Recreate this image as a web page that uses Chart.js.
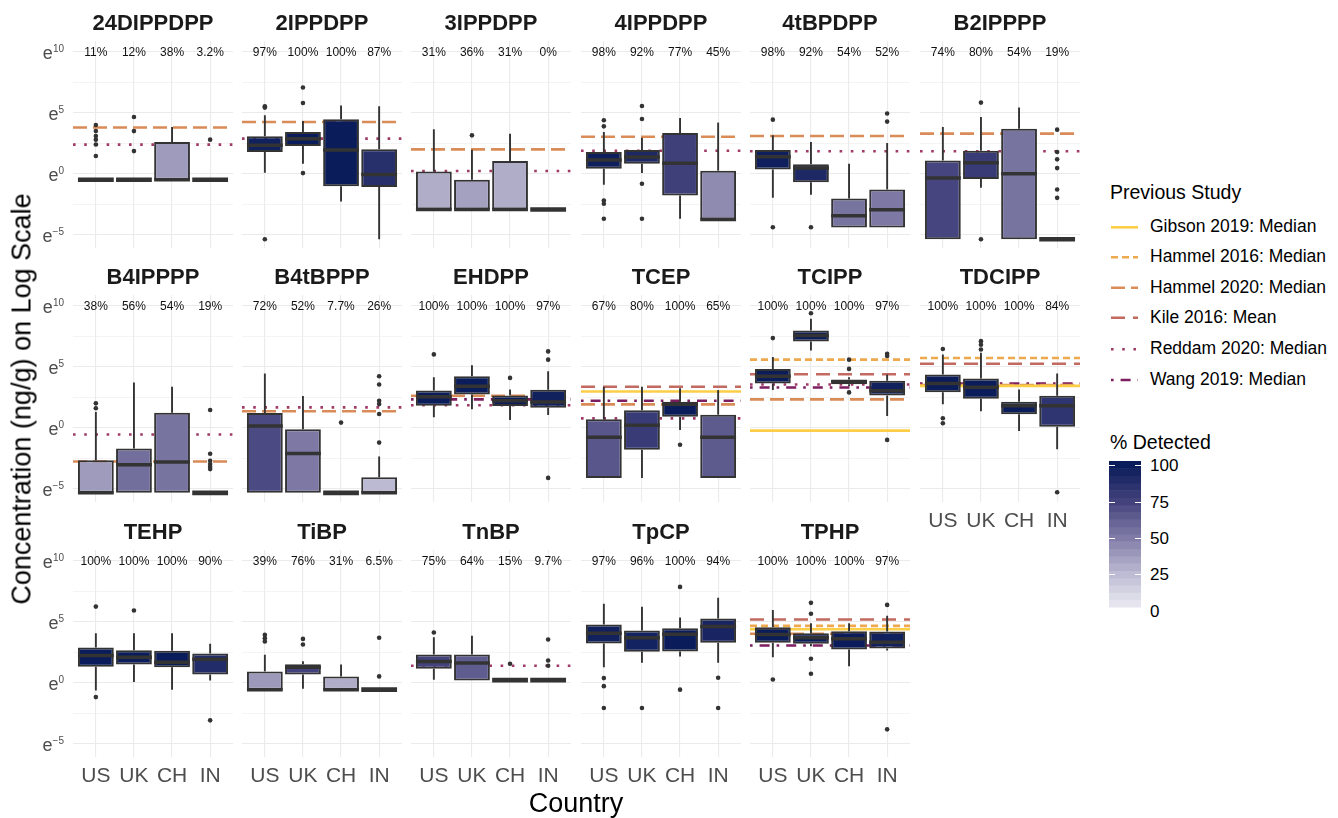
<!DOCTYPE html>
<html>
<head>
<meta charset="utf-8">
<script src="https://cdn.jsdelivr.net/npm/chart.js@4.4.1/dist/chart.umd.min.js"></script>
<style>
  body { margin: 0; background: #fff; font-family: "Liberation Sans", Arial, sans-serif; }
  #wrap { position: relative; width: 1338px; height: 818px; overflow: hidden; background: #fff; }
  #wrap canvas { position: absolute; }
  .t { position: absolute; white-space: nowrap; line-height: 1; color: #000; }
</style>
</head>
<body>
<div id="wrap"></div>
<script>
// ---- data (values are natural logs of ng/g) ----
const countries = ['US', 'UK', 'CH', 'IN'];
const compounds = ['24DIPPDPP', '2IPPDPP', '3IPPDPP', '4IPPDPP', '4tBPDPP', 'B2IPPPP',
  'B4IPPPP', 'B4tBPPP', 'EHDPP', 'TCEP', 'TCIPP', 'TDCIPP',
  'TEHP', 'TiBP', 'TnBP', 'TpCP', 'TPHP'];

const detected = [
  [11, 12, 38, 3.2], [97, 100, 100, 87], [31, 36, 31, 0], [98, 92, 77, 45], [98, 92, 54, 52], [74, 80, 54, 19],
  [38, 56, 54, 19], [72, 52, 7.7, 26], [100, 100, 100, 97], [67, 80, 100, 65], [100, 100, 100, 97], [100, 100, 100, 84],
  [100, 100, 100, 90], [39, 76, 31, 6.5], [75, 64, 15, 9.7], [97, 96, 100, 94], [100, 100, 100, 97]
];

const whiskerLow = [
  [-0.5, -0.5, -0.5, -0.5], [0.08, 0.82, -2.28, -5.38], [-2.94, -2.94, -2.94, -2.94], [-0.91, 0.05, -3.7, -3.76],
  [-1.98, -1.73, -4.42, -4.42], [-5.38, -1.15, -5.38, -5.38],
  [-5.35, -5.35, -5.35, -5.35], [-5.35, -5.35, -5.35, -5.35], [0.86, 1.51, 0.64, 1.04], [-4.12, -4.12, -0.18, -4.12],
  [3.09, 6.35, 3.4, 0.96], [1.92, 1.35, -0.26, -1.76],
  [-0.63, 0.05, -0.57, 0.19], [-0.57, -0.49, -0.57, -0.57], [0.25, 0.19, 0.21, 0.21], [1.28, 1.64, 2.16, 1.64], [2.1, 3.0, 1.36, 2.65]
];
const quart1 = [
  [-0.5, -0.5, -0.5, -0.5], [1.78, 2.27, -1.02, -1.1], [-2.94, -2.94, -2.94, -2.94], [0.41, 0.82, -1.79, -3.76],
  [0.35, -0.69, -4.42, -4.42], [-5.38, -0.44, -5.38, -5.38],
  [-5.35, -5.35, -5.35, -5.35], [-5.35, -5.35, -5.35, -5.35], [1.81, 2.73, 1.78, 1.64], [-4.12, -1.81, 0.91, -4.12],
  [3.63, 7.09, 3.58, 2.65], [2.92, 2.38, 1.1, 0.07],
  [1.31, 1.5, 1.28, 0.68], [-0.57, 0.68, -0.57, -0.57], [1.15, 0.19, 0.21, 0.21], [3.22, 2.54, 2.57, 3.28], [3.28, 3.2, 2.73, 2.81]
];
const medians = [
  [-0.5, -0.5, -0.5, -0.5], [2.33, 2.88, 1.94, -0.06], [-2.94, -2.94, -2.94, -2.94], [1.12, 1.37, 0.87, -3.76],
  [1.4, 0.46, -3.46, -2.96], [-0.36, 0.91, 0, -5.38],
  [-5.35, -3.04, -2.82, -5.35], [0.15, -2.11, -5.35, -5.35], [2.54, 3.41, 2.21, 2.11], [-0.78, 0.2, 1.92, -0.78],
  [4.23, 7.58, 3.77, 3.03], [3.63, 3.33, 1.81, 1.81],
  [2.24, 2.1, 1.69, 1.93], [-0.57, 1.28, -0.57, -0.57], [1.75, 1.61, 0.21, 0.21], [4.07, 3.69, 3.98, 4.61], [3.96, 3.69, 3.61, 3.33]
];
const quart3 = [
  [-0.5, -0.5, 2.6, -0.5], [3.07, 3.42, 4.47, 2.0], [0.19, -0.49, 1.04, -2.94], [1.78, 1.94, 3.34, 0.25],
  [1.94, 0.77, -2.03, -1.29], [1.09, 1.89, 3.7, -5.38],
  [-2.68, -1.7, 1.23, -5.35], [1.21, -0.12, -5.35, -4.07], [3.06, 4.23, 2.65, 3.11], [0.69, 1.43, 2.13, 1.07],
  [4.83, 7.98, 3.96, 3.85], [4.37, 4.04, 2.13, 2.62],
  [2.89, 2.67, 2.62, 2.4], [0.93, 1.52, 0.52, -0.57], [2.32, 2.32, 0.21, 0.21], [4.78, 4.29, 4.48, 5.27], [4.56, 4.07, 4.23, 4.2]
];
const whiskerHigh = [
  [-0.5, -0.5, 3.84, -0.5], [4.8, 4.33, 5.6, 5.54], [3.65, 1.97, 3.29, -2.94], [3.42, 2.96, 4.58, 4.2],
  [3.15, 2.6, 0.82, 2.52], [3.84, 4.66, 5.43, -5.38],
  [1.3, 3.71, 3.36, -5.35], [4.45, 2.6, -5.35, -2.36], [4.15, 5.13, 3.14, 4.64], [3.36, 3.36, 3.25, 3.09],
  [5.8, 8.94, 4.15, 4.37], [6.02, 6.16, 3.14, 4.45],
  [4.07, 4.07, 4.07, 3.2], [2.3, 1.77, 1.5, -0.57], [3.74, 3.85, 0.21, 0.21], [6.48, 6.23, 5.35, 6.97], [5.98, 4.89, 4.89, 5.49]
];
const outliers = [
  [[4.0, 3.5, 3.1, 2.8, 2.4, 1.45], [4.66, 3.5, 1.86], [], [2.8]],
  [[5.54, 5.43, -5.38], [7.08, 5.81, 0.05], [], []],
  [[], [3.15], [], []],
  [[4.39, 3.89, -2.2, -2.47, -3.7], [5.56, 4.5, -0.82, -3.7], [], []],
  [[4.44, -4.39], [-4.39], [], [4.94, 4.28]],
  [[], [5.84, -5.38], [], [3.62, 1.78, 1.18, 0.46, -1.29, -1.98]],
  [[2.0, 1.6], [], [], [1.45, -2.14, -2.71, -2.98, -3.2, -3.4]],
  [[], [], [0.42], [4.23, 3.55, 2.21, 1.94, 1.13, -1.22]],
  [[6.02], [], [4.09], [6.27, 5.59, -4.12]],
  [[], [], [-1.4], []],
  [[7.36], [9.4], [5.59, 4.83, 2.9], [6.08, 5.89, -1.0]],
  [[6.46, 0.78, 0.37], [7.11, 6.81, 6.43], [], [-5.3]],
  [[6.25, -1.18], [5.93], [], [-3.09]],
  [[3.93, 3.66, 3.39], [3.6, 3.14], [], [3.69, 0.52]],
  [[4.12], [], [1.56], [3.55, 1.83, 1.39]],
  [[0.38, -0.28, -2.08], [-2.08], [7.87, -0.57], [0.41, -2.08]],
  [[0.27], [6.56, 5.66, 1.97, 0.74], [], [6.39, -3.83]]
];

const studies = ['Gibson 2019: Median', 'Hammel 2016: Median', 'Hammel 2020: Median',
  'Kile 2016: Mean', 'Reddam 2020: Median', 'Wang 2019: Median'];
// one row per compound, one column per study (null = not reported)
const studyValues = [
  [null, null, 3.79, null, 2.39, null],
  [null, null, 4.25, null, 2.88, null],
  [null, null, 2.0, null, 0.22, null],
  [null, null, 3.04, null, 1.89, null],
  [null, null, 3.1, null, 1.84, null],
  [null, null, 3.29, null, 1.84, null],
  [null, null, -2.77, null, -0.56, null],
  [null, null, 1.35, null, 1.67, null],
  [null, null, 2.62, null, 1.84, 2.33],
  [2.98, null, 1.92, 3.36, 0.77, 2.21],
  [-0.24, 5.59, 2.33, 4.39, 3.55, 3.3],
  [3.44, 5.72, 3.5, 5.26, null, 3.63],
  [null, null, null, null, null, null],
  [null, null, null, null, null, null],
  [null, null, null, null, 1.39, null],
  [null, null, null, null, null, null],
  [4.39, 4.67, 4.02, 5.19, null, 3.06]
];

const yTicks = [-5, -2.5, 0, 2.5, 5, 7.5, 10];
const yLabelTicks = [-5, 0, 5, 10];
const legendTicks = [0, 25, 50, 75, 100];

// ---- styles ----
const studyColors = ['rgb(252,206,72)', 'rgb(238,168,78)', 'rgb(217,139,88)', 'rgb(194,105,96)', 'rgb(160,58,102)', 'rgb(124,30,95)'];
const studyDashes = [[], [7, 4], [14, 6], [14, 8], [2.6, 8.6], [2.6, 7, 10, 7]];
const rampStops = [[0, [240, 240, 246]], [25, [190, 188, 212]], [50, [130, 125, 167]], [75, [68, 67, 125]], [100, [10, 28, 90]]];

const fillFor = (p) => {
  p = Math.max(0, Math.min(100, p));
  for (let i = 1; i < rampStops.length; i++) {
    const [v1, c1] = rampStops[i];
    const [v0, c0] = rampStops[i - 1];
    if (p <= v1) {
      const t = (p - v0) / (v1 - v0);
      const c = c0.map((a, j) => Math.round(a + (c1[j] - a) * t));
      return `rgb(${c[0]},${c[1]},${c[2]})`;
    }
  }
};

const PLOT_W = 160, PLOT_H = 207;
const PAD = { left: 70, right: 6, top: 45, bottom: 45 };
const ROW_TOPS = [41, 295, 550];
const FONT = '"Liberation Sans", Arial, sans-serif';

const wrap = document.getElementById('wrap');

const panelDecor = {
  id: 'panelDecor',
  afterDatasetsDraw(chart, args, opts) {
    const k = opts.panel;
    const { ctx, scales: { x, y } } = chart;
    const boxes = chart.getDatasetMeta(opts.boxIndex).data;
    ctx.save();
    ctx.strokeStyle = '#333333';
    ctx.lineCap = 'butt';
    countries.forEach((c, i) => {
      const px = x.getPixelForValue(i + 1);
      ctx.lineWidth = 1.9;
      ctx.beginPath();
      ctx.moveTo(px, y.getPixelForValue(quart3[k][i]));
      ctx.lineTo(px, y.getPixelForValue(whiskerHigh[k][i]));
      ctx.moveTo(px, y.getPixelForValue(quart1[k][i]));
      ctx.lineTo(px, y.getPixelForValue(whiskerLow[k][i]));
      ctx.stroke();
      const hw = boxes[i].width / 2;
      const flat = quart3[k][i] - quart1[k][i] < 0.05;
      ctx.lineWidth = flat ? 4.6 : 3.5;
      const my = y.getPixelForValue(medians[k][i]);
      ctx.beginPath();
      ctx.moveTo(px - hw, my);
      ctx.lineTo(px + hw, my);
      ctx.stroke();
    });
    ctx.restore();
  },
  afterDraw(chart, args, opts) {
    const k = opts.panel;
    const { ctx, chartArea: a, scales: { x, y } } = chart;
    ctx.save();
    // strip title
    ctx.fillStyle = '#1a1a1a';
    ctx.font = `bold 22px ${FONT}`;
    ctx.textAlign = 'center';
    ctx.textBaseline = 'alphabetic';
    ctx.fillText(compounds[k], (a.left + a.right) / 2, a.top - 11.5);
    // % detected labels
    ctx.fillStyle = '#111';
    ctx.font = `12px ${FONT}`;
    ctx.textBaseline = 'middle';
    countries.forEach((c, i) => {
      ctx.fillText(detected[k][i] + '%', x.getPixelForValue(i + 1), y.getPixelForValue(10) + 1);
    });
    ctx.fillStyle = '#4d4d4d';
    if (opts.showX) {
      ctx.font = `21px ${FONT}`;
      ctx.textBaseline = 'alphabetic';
      countries.forEach((c, i) => ctx.fillText(c, x.getPixelForValue(i + 1), a.bottom + 24.5));
    }
    if (opts.showY) {
      ctx.textAlign = 'right';
      ctx.textBaseline = 'alphabetic';
      yLabelTicks.forEach((v) => {
        const py = y.getPixelForValue(v);
        const ex = String(v).replace('-', '\u2212');
        ctx.font = `10px ${FONT}`;
        const right = a.left - 9;
        ctx.fillText(ex, right, py + 0.5);
        const w = ctx.measureText(ex).width;
        ctx.font = `18px ${FONT}`;
        ctx.fillText('e', right - w, py + 7.5);
      });
    }
    ctx.restore();
  }
};

compounds.forEach((name, k) => {
  const row = Math.floor(k / 6), col = k % 6;
  const left = Math.round(72.5 + col * 169.4);
  const top = ROW_TOPS[row];
  const cv = document.createElement('canvas');
  cv.width = PAD.left + PLOT_W + PAD.right;
  cv.height = PAD.top + PLOT_H + PAD.bottom;
  cv.style.left = (left - PAD.left) + 'px';
  cv.style.top = (top - PAD.top) + 'px';
  wrap.appendChild(cv);

  const lineSets = [];
  studyValues[k].forEach((v, s) => {
    if (v === null) return;
    lineSets.push({
      type: 'line',
      data: [{ x: 0.4, y: v }, { x: 4.6, y: v }],
      borderColor: studyColors[s],
      borderWidth: 2.6,
      borderDash: studyDashes[s],
      borderCapStyle: 'butt',
      pointRadius: 0,
      order: 3
    });
  });
  const boxSet = {
    type: 'bar',
    data: countries.map((c, i) => ({ x: i + 1, y: [quart1[k][i], quart3[k][i]] })),
    backgroundColor: detected[k].map(fillFor),
    borderColor: '#333333',
    borderWidth: 2,
    borderSkipped: false,
    barPercentage: 0.94,
    categoryPercentage: 1,
    order: 2
  };
  const pts = [];
  outliers[k].forEach((list, i) => list.forEach((v) => pts.push({ x: i + 1, y: v })));
  const outlierSet = {
    type: 'scatter',
    data: pts,
    pointRadius: 2.3,
    pointBackgroundColor: '#333333',
    pointBorderWidth: 0,
    order: 1
  };

  new Chart(cv, {
    type: 'bar',
    data: { datasets: [...lineSets, boxSet, outlierSet] },
    options: {
      responsive: false,
      animation: false,
      events: [],
      layout: { padding: PAD },
      plugins: {
        legend: { display: false },
        tooltip: { enabled: false },
        panelDecor: { panel: k, boxIndex: lineSets.length, showX: row === 2 || k === 11, showY: col === 0 }
      },
      scales: {
        x: {
          type: 'linear', min: 0.4, max: 4.6, offset: false,
          afterBuildTicks: (s) => { s.ticks = countries.map((c, i) => ({ value: i + 1 })); },
          afterFit: (s) => { s.height = 0; },
          ticks: { display: false },
          border: { display: false },
          grid: { color: '#ebebeb', lineWidth: 1.1, drawTicks: false, offset: false }
        },
        y: {
          type: 'linear', min: -6.1, max: 10.9,
          afterBuildTicks: (s) => { s.ticks = yTicks.map((v) => ({ value: v })); },
          afterFit: (s) => { s.width = 0; },
          ticks: { display: false },
          border: { display: false },
          grid: {
            color: '#ebebeb', drawTicks: false,
            lineWidth: (c) => (c.tick && c.tick.value % 5 === 0 ? 1.1 : 0.55)
          }
        }
      }
    },
    plugins: [panelDecor]
  });
});

// ---- text outside panels ----
const addText = (str, x, y, size, transform, weight) => {
  const d = document.createElement('div');
  d.className = 't';
  d.textContent = str;
  d.style.left = x + 'px';
  d.style.top = y + 'px';
  d.style.fontSize = size + 'px';
  d.style.transform = transform || 'translateY(-50%)';
  if (weight) d.style.fontWeight = weight;
  wrap.appendChild(d);
  return d;
};

addText('Country', 576, 803, 27, 'translate(-50%,-50%)');
addText('Concentration (ng/g) on Log Scale', 22, 399, 27, 'translate(-50%,-50%) rotate(-90deg)');

// ---- legends ----
const legendRows = [227.3, 257.3, 287.7, 317.7, 349.3, 380];
addText('Previous Study', 1110, 193.3, 19.5);
studies.forEach((s, i) => addText(s, 1150, legendRows[i], 17.5));
addText('% Detected', 1110, 443.3, 19.5);
const tickY = (v) => 610.7 - v * 1.454;
legendTicks.forEach((v) => addText(String(v), 1150, tickY(v), 17));

const lg = document.createElement('canvas');
lg.width = 60; lg.height = 460;
lg.style.left = '1100px'; lg.style.top = '170px';
wrap.appendChild(lg);
const g = lg.getContext('2d');
g.translate(-1100, -170);
studies.forEach((s, i) => {
  g.save();
  g.strokeStyle = studyColors[i];
  g.lineWidth = 2.6;
  g.setLineDash(studyDashes[i]);
  g.beginPath();
  g.moveTo(1111, legendRows[i]);
  g.lineTo(1138, legendRows[i]);
  g.stroke();
  g.restore();
});
const barTop = 461, barBot = 607, nBins = 20;
for (let b = 0; b < nBins; b++) {
  const y0 = barBot - (b + 1) * (barBot - barTop) / nBins;
  const y1 = barBot - b * (barBot - barTop) / nBins;
  g.fillStyle = fillFor((610.7 - (y0 + y1) / 2) / 1.454);
  g.fillRect(1109, y0, 32, y1 - y0 + 0.5);
}
g.strokeStyle = '#ffffff';
g.lineWidth = 1;
legendTicks.filter((v) => v > 0).forEach((v) => {
  const py = Math.round(tickY(v)) + 0.5;
  g.beginPath();
  g.moveTo(1109, py); g.lineTo(1115, py);
  g.moveTo(1135, py); g.lineTo(1141, py);
  g.stroke();
});
</script>
</body>
</html>
